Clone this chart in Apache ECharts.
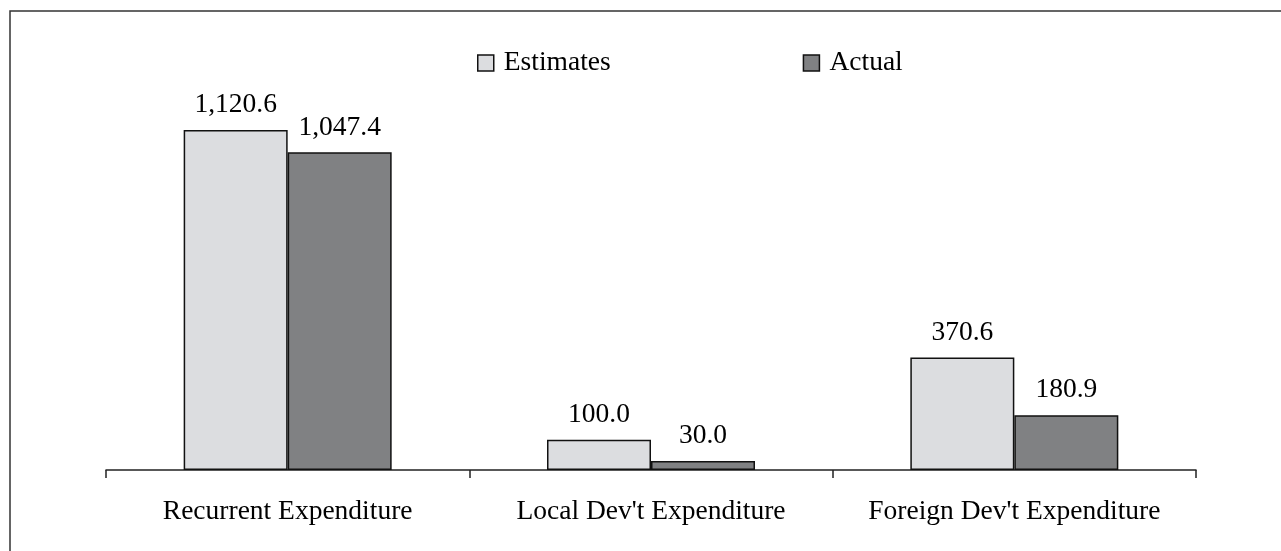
<!DOCTYPE html>
<html>
<head>
<meta charset="utf-8">
<title>Expenditure: Estimates vs Actual</title>
<script src="https://cdn.jsdelivr.net/npm/echarts@6/dist/echarts.min.js"></script>
<style>
  html, body { margin: 0; padding: 0; background: #ffffff; }
  #chart { width: 1281px; height: 551px; }
</style>
</head>
<body>
<div id="chart"></div>
<script>
// Expenditure categories and the two series compared
const categories = ['Recurrent Expenditure', "Local Dev't Expenditure", "Foreign Dev't Expenditure"];
const estimates = [1120.6, 100.0, 370.6];
const actual = [1047.4, 30.0, 180.9];

const FONT = '"Liberation Serif", "DejaVu Serif", serif';

function fmt(v) {
  return v.toLocaleString('en-US', { minimumFractionDigits: 1, maximumFractionDigits: 1 });
}

const chart = echarts.init(document.getElementById('chart'), null, { renderer: 'canvas' });

const barBorder = { borderColor: '#111111', borderWidth: 1.5 };
const labelStyle = {
  show: true,
  position: 'top',
  distance: 11,
  color: '#000000',
  fontFamily: FONT,
  fontSize: 27.5,
  formatter: p => fmt(p.value)
};

chart.setOption({
  animation: false,
  backgroundColor: '#ffffff',
  graphic: [{
    type: 'rect',
    silent: true,
    shape: { x: 10, y: 11, width: 1400, height: 700 },
    style: { fill: 'none', stroke: '#333333', lineWidth: 1.5 }
  }],
  legend: {
    top: 44,
    left: 472,
    icon: 'rect',
    itemWidth: 16,
    itemHeight: 16,
    itemGap: 192,
    textStyle: { fontFamily: FONT, fontSize: 27.5, color: '#000000', padding: [0, 0, 0, 5] },
    data: [
      { name: 'Estimates', itemStyle: { color: '#dcdde0', borderColor: '#111111', borderWidth: 1.5 } },
      { name: 'Actual', itemStyle: { color: '#808183', borderColor: '#111111', borderWidth: 1.5 } }
    ]
  },
  grid: { left: 106, right: 85, top: 106, bottom: 81, containLabel: false },
  xAxis: {
    type: 'category',
    data: categories,
    boundaryGap: true,
    axisLine: { show: true, lineStyle: { color: '#222222', width: 1.5 } },
    axisTick: { show: true, interval: 0, length: 8, alignWithLabel: false, lineStyle: { color: '#222222', width: 1.5 } },
    axisLabel: { interval: 0, color: '#000000', fontFamily: FONT, fontSize: 27.5, margin: 28 },
    splitLine: { show: false }
  },
  yAxis: {
    type: 'value',
    min: 0,
    max: 1200,
    show: false,
    splitLine: { show: false }
  },
  series: [
    {
      name: 'Estimates',
      type: 'bar',
      data: estimates,
      barWidth: 104,
      barGap: '0%',
      itemStyle: Object.assign({ color: '#dcdde0' }, barBorder),
      label: labelStyle
    },
    {
      name: 'Actual',
      type: 'bar',
      data: actual,
      barWidth: 104,
      barGap: '0%',
      itemStyle: Object.assign({ color: '#808183' }, barBorder),
      label: labelStyle
    }
  ]
});
</script>
</body>
</html>
